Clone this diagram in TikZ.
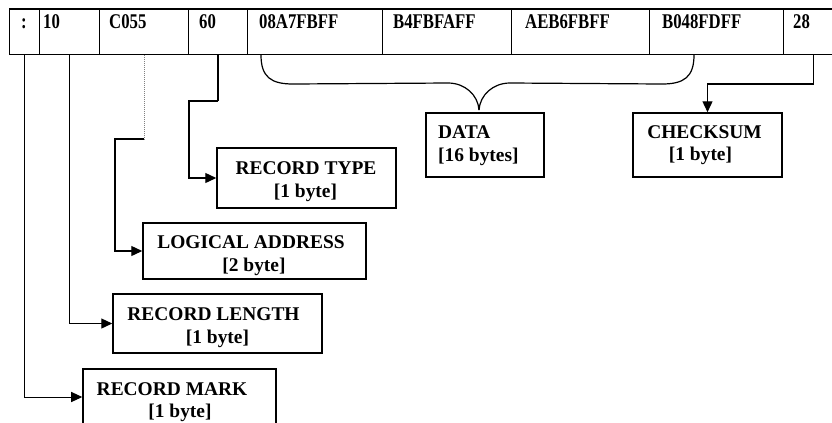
\documentclass[tikz,border=0pt]{standalone}
\usepackage{fontspec}
\setmainfont{Liberation Serif}
\usetikzlibrary{arrows.meta,calc}
\newcommand{\toptext}[1]{\scalebox{0.8}[1]{\fontsize{21}{21}\selectfont\bfseries #1}}
\tikzset{
  cell/.style={draw, line width=1bp, anchor=north west, minimum height=45bp, inner sep=0pt},
  celltext/.style={anchor=base west, inner sep=0pt},
  lbox/.style={draw, line width=1.5bp, inner sep=0pt},
  ltext/.style={anchor=base, inner sep=0pt, font=\fontsize{19.5}{23}\selectfont\bfseries},
  ltextl/.style={ltext, anchor=base west},
  conn/.style={line width=1.3bp, -{Triangle[length=11bp,width=10bp]}},
  plain/.style={line width=1.3bp},
}
\begin{document}
\begin{tikzpicture}[x=1bp,y=-1bp]
\clip (0,0) rectangle (832,422);
\fill[white] (0,0) rectangle (832,422);
% top row cells
\node[cell, minimum width=30bp] (c0) at (9,9) {};
\node[cell, minimum width=60bp] (c1) at (39,9) {};
\node[cell, minimum width=89bp] (c2) at (99,9) {};
\node[cell, minimum width=59bp] (c3) at (188,9) {};
\node[cell, minimum width=135bp] (c4) at (247,9) {};
\node[cell, minimum width=129bp] (c5) at (382,9) {};
\node[cell, minimum width=138bp] (c6) at (511,9) {};
\node[cell, minimum width=134bp] (c7) at (649,9) {};
\node[cell, minimum width=60bp] (c8) at (783,9) {};
\draw[line width=2.2bp] (c0.north west) -- (c8.north east);
% top row texts
\node[celltext] (t0) at ($(c0.north west)+(12,19)$) {\toptext{:}};
\node[celltext] (t1) at ($(c1.north west)+(4,19)$) {\toptext{10}};
\node[celltext] (t2) at ($(c2.north west)+(10,19)$) {\toptext{C055}};
\node[celltext] (t3) at ($(c3.north west)+(11,19)$) {\toptext{60}};
\node[celltext] (t4) at ($(c4.north west)+(12,19)$) {\toptext{08A7FBFF}};
\node[celltext] (t5) at ($(c5.north west)+(11,19)$) {\toptext{B4FBFAFF}};
\node[celltext] (t6) at ($(c6.north west)+(14,19)$) {\toptext{AEB6FBFF}};
\node[celltext] (t7) at ($(c7.north west)+(13,19)$) {\toptext{B048FDFF}};
\node[celltext] (t8) at ($(c8.north west)+(10,19)$) {\toptext{28}};
% label boxes
\node[lbox, minimum width=179bp, minimum height=60bp] (rtype) at (306.5,178) {};
\node[lbox, minimum width=223bp, minimum height=56bp] (laddr) at (254.5,251) {};
\node[lbox, minimum width=209bp, minimum height=59bp] (rlen) at (217.5,323.5) {};
\node[lbox, minimum width=193bp, minimum height=56bp] (rmark) at (179.5,397) {};
\node[lbox, minimum width=118bp, minimum height=64bp] (data) at (485,145) {};
\node[lbox, minimum width=149bp, minimum height=64bp] (cks) at (707.5,145) {};
% label texts
\node[ltext] (rtype1) at (306,174) {RECORD TYPE};
\node[ltext] (rtype2) at (305.5,197) {[1 byte]};
\node[ltext] (laddr1) at (251,248) {LOGICAL ADDRESS};
\node[ltext] (laddr2) at (254,271) {[2 byte]};
\node[ltext] (rlen1) at (213.5,320) {RECORD LENGTH};
\node[ltext] (rlen2) at (217.5,343) {[1 byte]};
\node[ltext] (rmark1) at (172,395) {RECORD MARK};
\node[ltext] (rmark2) at (180,417) {[1 byte]};
\node[ltextl] (data1) at (438,138) {DATA};
\node[ltextl] (data2) at (438,161) {[16 bytes]};
\node[ltext] (cks1) at (704.5,138) {CHECKSUM};
\node[ltext] (cks2) at (700.5,160) {[1 byte]};
% connectors
\draw[conn, line width=1bp] (c0.south) |- (rmark.west);
\draw[conn] (c1.south) |- (rlen.west);
\draw[line width=1bp, gray, densely dotted] (c2.south) -- ++(0,84) coordinate (k1);
\draw[conn] (k1) -- ++(-29,0) |- (laddr.west);
\draw[plain] (c3.south) -- ++(0,46) coordinate (k2);
\draw[conn] (k2) -- ++(-29,0) |- (rtype.west);
\draw[plain] (c8.south) -- ++(0,29) coordinate (k3);
\draw[conn] (k3) -| (cks.north);
% brace
\coordinate (bl) at ($(c4.south west)+(14,0)$);
\coordinate (br) at ($(c7.south west)+(45,0)$);
\coordinate (tip) at (479,110);
\draw[line width=1.2bp] (bl) .. controls ($(bl)+(0,22)$) and ($(bl)+(10,29)$) .. ($(bl)+(32,29)$)
  -- (448,83) .. controls (465,83) and (478,95) .. (tip);
\draw[line width=1.2bp] (br) .. controls ($(br)+(0,22)$) and ($(br)+(-10,29)$) .. ($(br)+(-32,29)$)
  -- (510,83) .. controls (493,83) and (480,95) .. (tip);
\end{tikzpicture}
\end{document}
